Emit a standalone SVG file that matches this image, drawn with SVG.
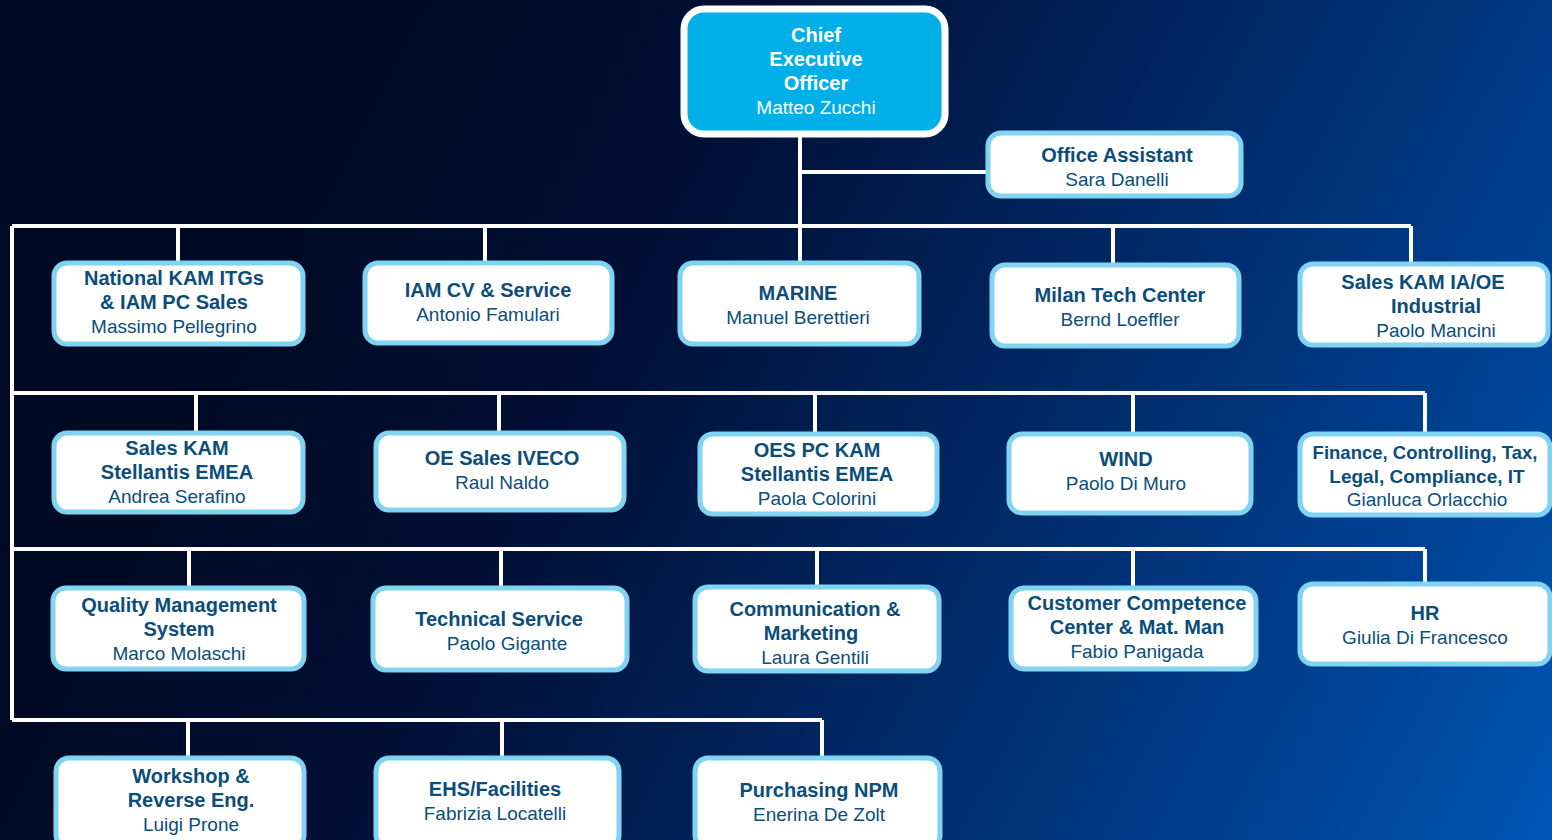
<svg xmlns="http://www.w3.org/2000/svg" width="1552" height="840" viewBox="0 0 1552 840">
<defs>
<linearGradient id="bg" gradientUnits="userSpaceOnUse" x1="300" y1="150" x2="1552" y2="800">
<stop offset="0" stop-color="#000a24"/>
<stop offset="0.25" stop-color="#000f34"/>
<stop offset="0.59" stop-color="#002c6c"/>
<stop offset="0.8" stop-color="#003f8f"/>
<stop offset="1" stop-color="#0054b2"/>
</linearGradient>
<style>
.box{fill:#ffffff;stroke:#80d4f2;stroke-width:5}
.ln{stroke:#ffffff;stroke-width:4;fill:none}
.t{font-family:"Liberation Sans",Arial,sans-serif;font-size:20px;font-weight:bold;fill:#0b4d7a;text-anchor:middle}
.n{font-family:"Liberation Sans",Arial,sans-serif;font-size:19px;fill:#0b4d7a;text-anchor:middle}
.ct{font-family:"Liberation Sans",Arial,sans-serif;font-size:20px;font-weight:bold;fill:#ffffff;text-anchor:middle}
.cn{font-family:"Liberation Sans",Arial,sans-serif;font-size:19px;fill:#ffffff;text-anchor:middle}
</style>
</defs>
<rect width="1552" height="840" fill="url(#bg)"/>
<g id="connectors">
<path class="ln" d="M800 137V226M800 172H988"/>
<path class="ln" d="M12 226H1411M12 226V720"/>
<path class="ln" d="M178 226V262M485 226V262M800 226V262M1113 226V264M1411 226V263"/>
<path class="ln" d="M12 393H1425M196 393V432M499 393V432M815 393V433M1133 393V433M1425 393V433"/>
<path class="ln" d="M12 549H1425M189 549V587M501 549V587M817 549V586M1133 549V587M1425 549V583"/>
<path class="ln" d="M12 720H822M188 720V757M502 720V757M822 720V757"/>
</g>
<g id="ceo">
<rect x="684" y="9" width="261" height="125" rx="20" fill="#00aee8" stroke="#ffffff" stroke-width="7"/>
<text class="ct" x="816" y="42">Chief</text>
<text class="ct" x="816" y="66">Executive</text>
<text class="ct" x="816" y="90">Officer</text>
<text class="cn" x="816" y="114">Matteo Zucchi</text>
</g>
<g id="office-assistant">
<rect class="box" x="988" y="133" width="253" height="63" rx="13"/>
<text class="t" x="1117" y="162">Office Assistant</text>
<text class="n" x="1117" y="186">Sara Danelli</text>
</g>
<g id="national-kam">
<rect class="box" x="54" y="263" width="249" height="81" rx="13"/>
<text class="t" x="174" y="285">National KAM ITGs</text>
<text class="t" x="174" y="309">&amp; IAM PC Sales</text>
<text class="n" x="174" y="333">Massimo Pellegrino</text>
</g>
<g id="iam-cv">
<rect class="box" x="365" y="263" width="247" height="80" rx="13"/>
<text class="t" x="488" y="297">IAM CV &amp; Service</text>
<text class="n" x="488" y="321">Antonio Famulari</text>
</g>
<g id="marine">
<rect class="box" x="680" y="263" width="239" height="81" rx="13"/>
<text class="t" x="798" y="300">MARINE</text>
<text class="n" x="798" y="324">Manuel Berettieri</text>
</g>
<g id="milan-tech">
<rect class="box" x="992" y="265" width="247" height="81" rx="13"/>
<text class="t" x="1120" y="302">Milan Tech Center</text>
<text class="n" x="1120" y="326">Bernd Loeffler</text>
</g>
<g id="sales-kam-ia">
<rect class="box" x="1300" y="264" width="248" height="81" rx="13"/>
<text class="t" x="1423" y="289">Sales KAM IA/OE</text>
<text class="t" x="1436" y="313">Industrial</text>
<text class="n" x="1436" y="337">Paolo Mancini</text>
</g>
<g id="sales-kam-stellantis">
<rect class="box" x="54" y="433" width="249" height="79" rx="13"/>
<text class="t" x="177" y="455">Sales KAM</text>
<text class="t" x="177" y="479">Stellantis EMEA</text>
<text class="n" x="177" y="503">Andrea Serafino</text>
</g>
<g id="oe-sales-iveco">
<rect class="box" x="376" y="433" width="248" height="77" rx="13"/>
<text class="t" x="502" y="465">OE Sales IVECO</text>
<text class="n" x="502" y="489">Raul Naldo</text>
</g>
<g id="oes-pc-kam">
<rect class="box" x="700" y="434" width="237" height="80" rx="13"/>
<text class="t" x="817" y="457">OES PC KAM</text>
<text class="t" x="817" y="481">Stellantis EMEA</text>
<text class="n" x="817" y="505">Paola Colorini</text>
</g>
<g id="wind">
<rect class="box" x="1009" y="434" width="242" height="79" rx="13"/>
<text class="t" x="1126" y="466">WIND</text>
<text class="n" x="1126" y="490">Paolo Di Muro</text>
</g>
<g id="finance">
<rect class="box" x="1300" y="434" width="250" height="81" rx="13"/>
<text class="t" x="1425" y="459" style="font-size:18.5px">Finance, Controlling, Tax,</text>
<text class="t" x="1427" y="483" style="font-size:19px">Legal, Compliance, IT</text>
<text class="n" x="1427" y="506">Gianluca Orlacchio</text>
</g>
<g id="quality">
<rect class="box" x="53" y="588" width="251" height="81" rx="13"/>
<text class="t" x="179" y="612">Quality Management</text>
<text class="t" x="179" y="636">System</text>
<text class="n" x="179" y="660">Marco Molaschi</text>
</g>
<g id="technical-service">
<rect class="box" x="373" y="588" width="254" height="82" rx="13"/>
<text class="t" x="499" y="626">Technical Service</text>
<text class="n" x="507" y="650">Paolo Gigante</text>
</g>
<g id="communication">
<rect class="box" x="695" y="587" width="244" height="84" rx="13"/>
<text class="t" x="815" y="616">Communication &amp;</text>
<text class="t" x="811" y="640">Marketing</text>
<text class="n" x="815" y="664">Laura Gentili</text>
</g>
<g id="customer-competence">
<rect class="box" x="1011" y="588" width="245" height="81" rx="13"/>
<text class="t" x="1137" y="610">Customer Competence</text>
<text class="t" x="1137" y="634">Center &amp; Mat. Man</text>
<text class="n" x="1137" y="658">Fabio Panigada</text>
</g>
<g id="hr">
<rect class="box" x="1300" y="584" width="250" height="80" rx="13"/>
<text class="t" x="1425" y="620">HR</text>
<text class="n" x="1425" y="644">Giulia Di Francesco</text>
</g>
<g id="workshop">
<rect class="box" x="56" y="758" width="248" height="90" rx="13"/>
<text class="t" x="191" y="783">Workshop &amp;</text>
<text class="t" x="191" y="807">Reverse Eng.</text>
<text class="n" x="191" y="831">Luigi Prone</text>
</g>
<g id="ehs">
<rect class="box" x="376" y="758" width="243" height="90" rx="13"/>
<text class="t" x="495" y="796">EHS/Facilities</text>
<text class="n" x="495" y="820">Fabrizia Locatelli</text>
</g>
<g id="purchasing">
<rect class="box" x="695" y="758" width="245" height="90" rx="13"/>
<text class="t" x="819" y="797">Purchasing NPM</text>
<text class="n" x="819" y="821">Enerina De Zolt</text>
</g>
</svg>
